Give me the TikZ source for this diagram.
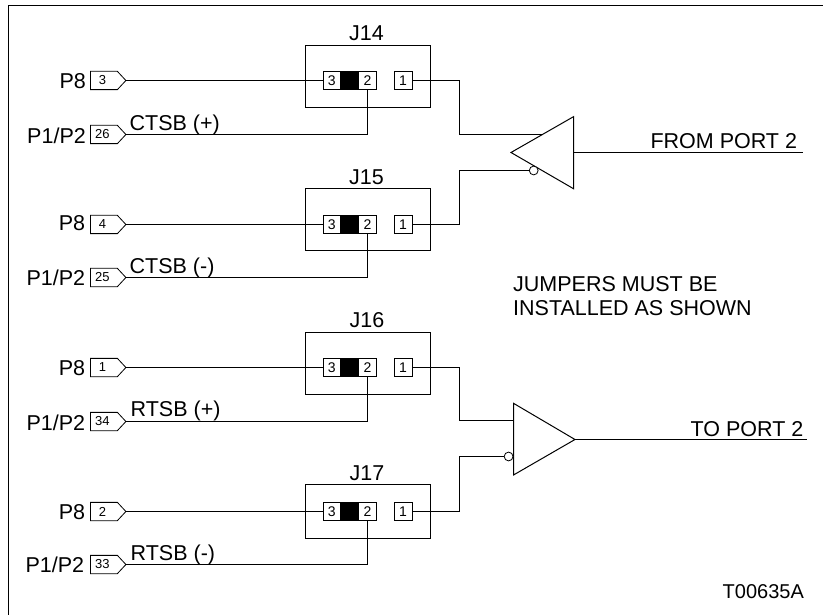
\documentclass[tikz,border=0pt]{standalone}
\usepackage{fontspec}
\setmainfont{Liberation Sans}
\usetikzlibrary{shapes.symbols}
\tikzset{
  x=1pt,y=-1pt,
  wire/.style={draw=black,line width=1pt,line join=miter},
  lbl/.style={font=\fontsize{21.5}{24}\selectfont,inner sep=0pt,text=black},
  lblR/.style={lbl,anchor=base east},
  lblL/.style={lbl,anchor=base west},
  lblC/.style={lbl,anchor=base},
  pinbox/.style={draw=black,line width=0.8pt,fill=white,minimum width=18pt,minimum height=18.3pt,inner sep=0pt,font=\fontsize{14}{16}\selectfont},
  shorty/.style={draw=black,line width=0.9pt,fill=black,minimum width=19pt,minimum height=18.3pt,inner sep=0pt},
  conn/.style={draw=black,line width=0.8pt,fill=white,signal,signal to=east,signal pointer angle=94,
     minimum width=35.5pt,minimum height=18.3pt,inner sep=0pt,anchor=west,font=\fontsize{13}{15}\selectfont},
  jbox/.style={draw=black,line width=1pt,minimum width=125pt,inner sep=0pt},
  bubble/.style={circle,draw=black,line width=0.8pt,fill=white,minimum size=8.8pt,inner sep=0pt},
  gate/.style={draw=black,line width=1pt,line join=miter,fill=white},
}
% #1 tag, #2 box top, #3 box height, #4 row y, #5 low row y, #6 upper conn number, #7 lower conn number
\newcommand{\jumperblock}[7]{%
  \node[jbox,minimum height=#3pt,anchor=north] (#1box) at (367.5,#2) {};
  \node[pinbox,minimum width=17.5pt] (#1p3) at (331.8,#4) {3};
  \node[shorty] (#1s) at (349.8,#4) {};
  \node[pinbox] (#1p2) at (367.5,#4) {2};
  \node[pinbox] (#1p1) at (403,#4) {1};
  \node[conn] (#1u) at (90,#4) {\makebox[0pt]{\hspace{-3pt}#6}};
  \node[conn] (#1l) at (90,#5) {\makebox[0pt]{\hspace{-3pt}#7}};
  \draw[wire] (#1u.east) -- (#1p3.west);
  \draw[wire] (#1l.east) -- (#1l.east -| #1p2.south) -- (#1p2.south);
}
\begin{document}
\begin{tikzpicture}
\useasboundingbox (0,0) rectangle (823,615);
\coordinate (fa) at (823,5.3);
\coordinate (fb) at (8.3,5.3);
\coordinate (fc) at (8.3,615);
\draw[line width=1.4pt] (fa) -- (fb) -- (fc);

\jumperblock{A}{45}{62}{80.5}{134.5}{3}{26}
\jumperblock{B}{188.5}{62}{224.5}{277.5}{4}{25}
\jumperblock{C}{331.5}{62}{367.5}{421.5}{1}{34}
\jumperblock{D}{483.5}{54}{511.5}{564.5}{2}{33}

\node[lblC] (tA) at (366.5,40.7) {J14};
\node[lblC] (tB) at (366.5,185) {J15};
\node[lblC] (tC) at (367,327.3) {J16};
\node[lblC] (tD) at (367,480.3) {J17};

\node[lblR] (pA) at (86,88.3) {P8};
\node[lblR] (qA) at (86,143.7) {P1/P2};
\node[lblL] (sA) at (129.5,130.7) {CTSB (+)};
\node[lblR] (pB) at (85.3,230.7) {P8};
\node[lblR] (qB) at (85.3,286) {P1/P2};
\node[lblL] (sB) at (129.5,273.3) {CTSB (-)};
\node[lblR] (pC) at (85.3,375.7) {P8};
\node[lblR] (qC) at (85.3,430) {P1/P2};
\node[lblL] (sC) at (130.5,416.7) {RTSB (+)};
\node[lblR] (pD) at (85.3,519) {P8};
\node[lblR] (qD) at (84.3,572.7) {P1/P2};
\node[lblL] (sD) at (130.5,560) {RTSB (-)};

% upper gate
\coordinate (g1tip) at (511,152.5);
\coordinate (g1top) at (573.5,116.7);
\coordinate (g1bot) at (573.5,188.7);
\coordinate (g1a) at (541.7,134.5);
\coordinate (g1o) at (573.5,152.5);
\coordinate (g1end) at (802.7,152.5);
\draw[gate] (g1tip) -- (g1top) -- (g1bot) -- cycle;
\node[bubble] (g1b) at (533.7,170.5) {};
\draw[wire] (Ap1.east) -- ++(47,0) |- (g1a);
\draw[wire] (Bp1.east) -- ++(47,0) |- (g1b.west);
\draw[wire] (g1o) -- (g1end);

% lower gate
\coordinate (g2tip) at (575,439.5);
\coordinate (g2top) at (513.5,403.3);
\coordinate (g2bot) at (513.5,475);
\coordinate (g2a) at (513.5,420.5);
\coordinate (g2end) at (806.7,439.5);
\draw[gate] (g2tip) -- (g2top) -- (g2bot) -- cycle;
\node[bubble] (g2b) at (508.6,456.5) {};
\draw[wire] (Cp1.east) -- ++(47,0) |- (g2a);
\draw[wire] (Dp1.east) -- ++(47,0) |- (g2b.west);
\draw[wire] (g2tip) -- (g2end);

\node[lblL] (from) at (650.3,149) {FROM PORT 2};
\node[lblL] (to) at (690.5,436) {TO PORT 2};
\node[lblL] (n1) at (513,291) {JUMPERS MUST BE};
\node[lblL] (n2) at (513,315.7) {INSTALLED AS SHOWN};
\node[lbl,anchor=base west,font=\fontsize{20}{24}\selectfont] (tag) at (722.5,598.3) {T00635A};
\end{tikzpicture}
\end{document}
